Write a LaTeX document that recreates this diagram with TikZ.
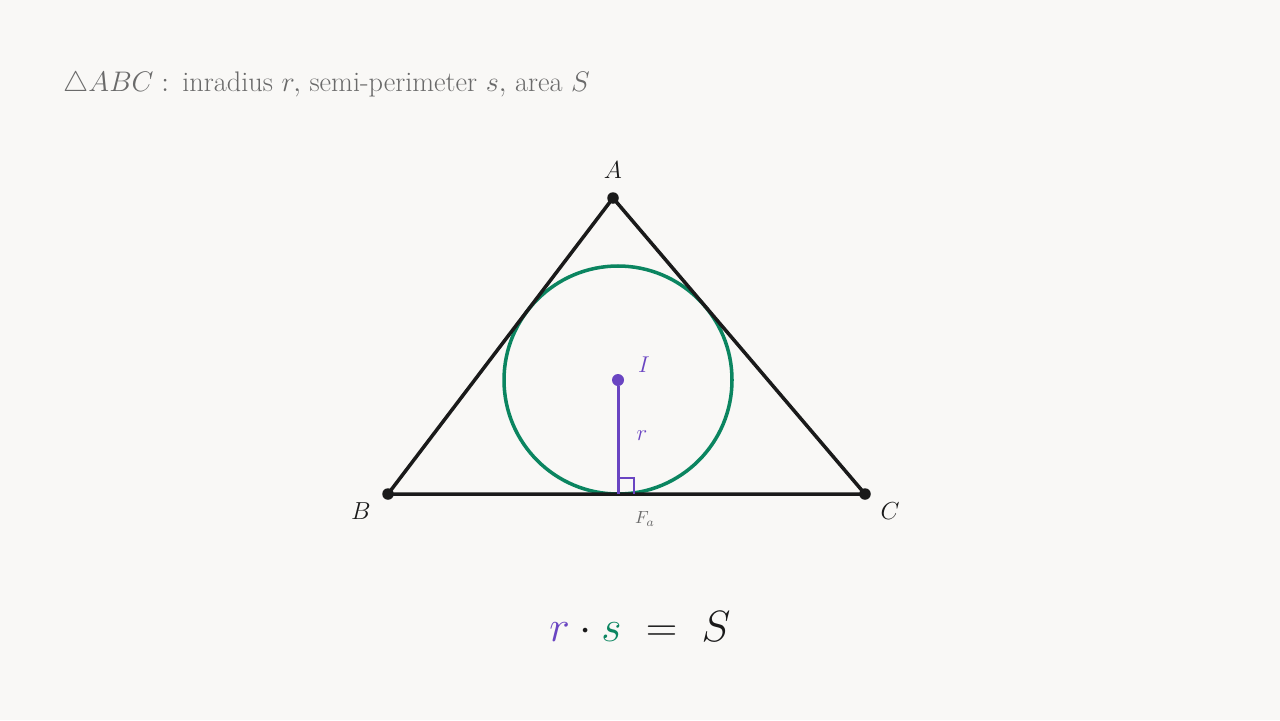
\RequirePackage{fix-cm}
\documentclass[tikz,border=0pt]{standalone}
\usepackage{amsmath}
\usepackage{amssymb}
\usepackage{xcolor}
\usepackage{tikz}
\usetikzlibrary{positioning}

\definecolor{paperbg}{HTML}{F9F8F6}
\definecolor{radpurple}{HTML}{6A45C2}
\definecolor{incgreen}{HTML}{0B8560}
\definecolor{edgeblack}{HTML}{1A1A1A}
\definecolor{notegray}{HTML}{6A6A6A}

\tikzset{
  vertex/.style={circle, fill=edgeblack, inner sep=0pt, minimum size=0.23cm},
  ptlabel/.style={inner sep=0pt, text=edgeblack, font=\fontsize{14}{16}\selectfont},
  edge/.style={draw=edgeblack, line width=2pt, line join=round}
}

\begin{document}
\begin{tikzpicture}[x=0.02cm, y=-0.02cm]
  \fill[paperbg] (0,0) rectangle (1280,720);
  \useasboundingbox (0,0) rectangle (1280,720);

  % heading
  \node (head) [anchor=west, inner sep=0pt, text=notegray, font=\fontsize{16.1}{19}\selectfont] at (63,84)
    {$\triangle ABC:$\, inradius $r,$ semi-perimeter $s,$ area $S$};

  % triangle corners
  \node (A) [vertex] at (613,198) {};
  \node (B) [vertex] at (388,494) {};
  \node (C) [vertex] at (865,494) {};
  \node (I) [circle, fill=radpurple, inner sep=0pt, minimum size=0.24cm] at (618,380) {};
  \coordinate (F) at (618,494);

  \node (labA) [ptlabel] at (613,170) {$A$};
  \node (labB) [ptlabel] at (361,511) {$B$};
  \node (labC) [ptlabel] at (890,511) {$C$};
  \node (labI) [ptlabel, text=radpurple, font=\fontsize{13}{15}\selectfont] at (644,365) {$I$};
  \node (labr) [ptlabel, text=radpurple, font=\fontsize{13}{15}\selectfont] at (642,436) {$r$};
  \node (labF) [ptlabel, text=notegray, font=\fontsize{10}{12}\selectfont] at (645,519) {$F_a$};

  % incircle
  \draw[incgreen, line width=2pt] (I.center) circle (114);

  % sides
  \draw[edge] (A.center) -- (B.center) -- (C.center) -- cycle;

  % radius and right angle
  \draw[radpurple, line width=1.7pt] (I) -- (F);
  \draw[radpurple, line width=1.3pt] (F) ++(0,-16) -- ++(16,0) -- ++(0,16);

  % formula
  \node (formula) [inner sep=0pt, text=edgeblack, font=\fontsize{24.9}{29}\selectfont] at (640,627)
    {$\color{radpurple}r\color{edgeblack}\cdot\color{incgreen}s\color{edgeblack}\;=\;S$};
\end{tikzpicture}
\end{document}
